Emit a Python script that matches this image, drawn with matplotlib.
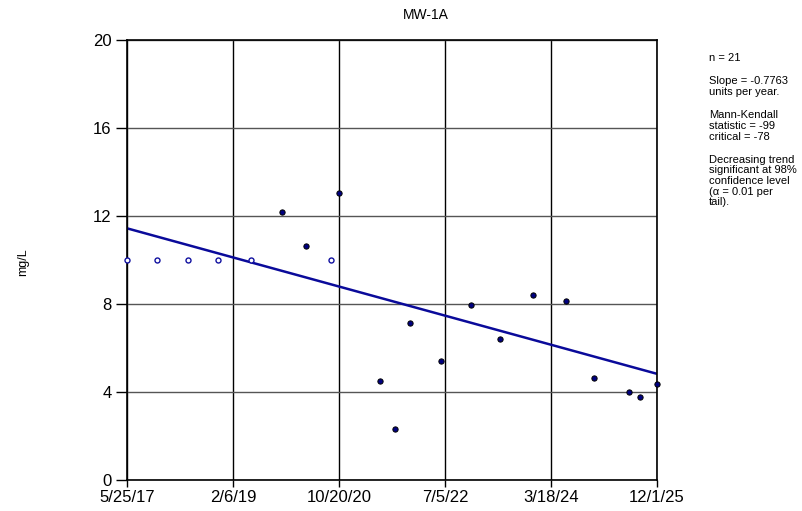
import matplotlib
matplotlib.use("Agg")
import matplotlib.pyplot as plt
import pandas as pd
import numpy as np

plt.rcParams['font.family'] = ['Liberation Sans', 'DejaVu Sans']

# ---- data ----
sample_dates = ["2017-05-27", "2017-11-15", "2018-05-20", "2018-11-10", "2019-05-22",
                "2019-11-24", "2020-04-11", "2020-09-01", "2020-10-22", "2021-06-18",
                "2021-09-12", "2021-12-13", "2022-06-11", "2022-12-02", "2023-05-25",
                "2023-12-03", "2024-06-16", "2024-11-29", "2025-06-19", "2025-08-22",
                "2025-12-01"]
values = [10, 10, 10, 10, 10, 12.2, 10.65, 10, 13.05, 4.5,
          2.33, 7.14, 5.41, 7.97, 6.41, 8.42, 8.14, 4.62, 4.01, 3.79, 4.35]
nondetect = [True, True, True, True, True, False, False, True, False, False,
             False, False, False, False, False, False, False, False, False, False, False]
tick_dates = ["2017-05-25", "2019-02-06", "2020-10-20", "2022-07-05", "2024-03-18", "2025-12-01"]
tick_labels = ["5/25/17", "2/6/19", "10/20/20", "7/5/22", "3/18/24", "12/1/25"]
y_ticks = [0, 4, 8, 12, 16, 20]
trend_start_value = 11.44
slope_per_year = -0.7763
title = "MW-1A"
ylabel = "mg/L"
stats_lines = [
    ["n = 21"],
    ["Slope = -0.7763", "units per year."],
    ["Mann-Kendall", "statistic = -99", "critical = -78"],
    ["Decreasing trend", "significant at 98%", "confidence level", "(\u03b1 = 0.01 per", "tail)."],
]

# ---- figure ----
W, H = 802, 511
fig = plt.figure(figsize=(W / 100, H / 100), dpi=100)
ax = fig.add_axes([127 / W, (H - 480) / H, (657 - 127) / W, (480 - 40) / H])

d = pd.to_datetime(sample_dates)
v = np.array(values)
nd = np.array(nondetect)
td = pd.to_datetime(tick_dates)

# grid
for t in td:
    ax.axvline(t, color='black', lw=1.0, zorder=0)
for yv in y_ticks:
    ax.axhline(yv, color='#555555', lw=1.0, zorder=0)

# trend line
x0, x1 = td[0], td[-1]
years = (x1 - x0).days / 365.25
ax.plot([x0, x1], [trend_start_value, trend_start_value + slope_per_year * years],
        color='#0a0a9a', lw=1.8, zorder=2, solid_capstyle='butt')

# points
ax.plot(d[~nd], v[~nd], 'o', ms=3.8, mfc='#000080', mec='black', mew=0.7, zorder=3, clip_on=False)
ax.plot(d[nd], v[nd], 'o', ms=3.6, mfc='white', mec='#1010a0', mew=1.0, zorder=3, clip_on=False)

ax.set_xlim(td[0], td[-1])
ax.set_ylim(0, 20)
ax.set_xticks(td)
ax.set_xticklabels(tick_labels)
ax.set_yticks(y_ticks)
ax.set_yticklabels([str(y) for y in y_ticks])
ax.tick_params(axis='both', labelsize=12, length=5, width=1, color='black', pad=2, direction='out')
ax.tick_params(axis='y', length=8, pad=3)
for s in ax.spines.values():
    s.set_color('black')
    s.set_linewidth(1.2)

fig.text(426 / W, 1 - 15 / H, title, ha='center', va='center', fontsize=10)
fig.text(23 / W, 1 - 262 / H, ylabel, ha='center', va='center', rotation=90, fontsize=9)

# stats text
y = 58
for para in stats_lines:
    for line in para:
        fig.text(709 / W, 1 - y / H, line, ha='left', va='center', fontsize=8)
        y += 10.7
    y += 12.5
fig.savefig("out.png", dpi=100)
